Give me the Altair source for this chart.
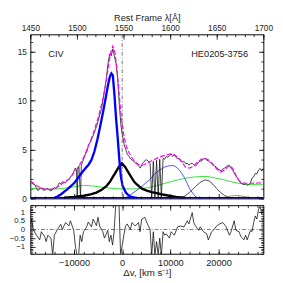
import altair as alt
import pandas as pd

# ---------------- data ----------------
# observed spectrum: velocity (km/s) and flux
spec_v = [-19070, -18810, -18470, -18120, -17860, -17460, -17160, -16790, -16450, -16110,
          -15790, -15440, -15140, -14780, -14430, -14090, -13770, -13430, -13080, -12760,
          -12420, -12080, -11750, -11410, -11070, -10750, -10400, -10060, -9740, -9500,
          -9330, -9190, -8990, -8650, -8490, -8180, -7880, -7640, -7320, -6980,
          -6630, -6310, -5970, -5620, -5300, -4960, -4620, -4290, -3950, -3610,
          -3290, -2940, -2600, -2280, -1940, -1590, -1270, -930, -580, -260,
          80, 420, 750, 1090, 1430, 1750, 2100, 2440, 2760, 3100,
          3450, 3770, 4110, 4460, 4780, 5120, 5460, 5790, 6130, 6470,
          6790, 7140, 7480, 7800, 8140, 8490, 8810, 9150, 9500, 9820,
          10160, 10500, 10830, 11170, 11510, 11830, 12180, 12520, 12840, 13180,
          13530, 13850, 14190, 14540, 14860, 15200, 15540, 15870, 16210, 16550,
          16870, 17220, 17560, 17880, 18220, 18570, 18890, 19230, 19580, 19900,
          20240, 20580, 20910, 21250, 21590, 21910, 22260, 22600, 22920, 23260,
          23610, 23930, 24270, 24620, 24940, 25280, 25620, 25950, 26290, 26630,
          26950, 27300, 27640, 27960, 28300, 28650, 28970, 29310]
spec_f = [1.5, 1.6, 1.45, 1.4, 1.1, 0.8, 1.0, 1.1, 0.9, 0.8,
          1.0, 1.0, 0.85, 0.76, 0.9, 1.1, 1.0, 1.25, 1.58, 1.5,
          1.7, 1.65, 1.6, 1.85, 1.9, 2.2, 2.4, 2.7, 3.1, 2.9,
          0.05, 3.0, 3.3, 0.1, 3.4, 3.8, 4.2, 4.55, 4.8, 5.5,
          5.7, 6.1, 6.5, 7.0, 7.4, 8.0, 8.6, 9.2, 10.2, 11.2,
          12.3, 13.8, 14.8, 14.6, 15.3, 14.5, 13.8, 12.2, 9.5, 7.5,
          6.4, 5.5, 5.0, 4.5, 4.3, 4.06, 3.9, 3.8, 3.6, 3.5,
          3.3, 3.1, 3.5, 3.7, 3.9, 3.95, 3.8, 3.6, 0.1, 3.8,
          0.05, 3.9, 0.1, 4.0, 0.05, 4.1, 4.0, 4.3, 4.2, 4.4,
          4.55, 4.3, 4.45, 4.2, 4.06, 4.1, 3.9, 3.7, 3.8, 3.55,
          3.6, 3.4, 3.55, 3.6, 3.45, 3.3, 3.5, 3.73, 3.8, 3.9,
          4.0, 4.1, 3.9, 3.85, 3.7, 3.56, 3.4, 3.3, 3.2, 3.0,
          2.9, 2.85, 3.0, 3.1, 3.2, 3.35, 3.4, 3.1, 2.9, 2.6,
          2.3, 2.08, 1.8, 1.58, 1.5, 1.4, 1.5, 1.35, 1.4, 1.6,
          2.08, 2.2, 2.57, 2.5, 2.9, 3.07, 2.8, 3.1]

# total model (magenta dashed)
model_v = [-19070, -18060, -17060, -16050, -15040, -14030, -13020, -12020, -11010, -10000,
           -8990, -7980, -6980, -5970, -4960, -3950, -3350, -2740, -2340, -1940,
           -1530, -1130, -730, -320, 80, 480, 890, 1490, 2100, 2700,
           3310, 3910, 4520, 5120, 6130, 7140, 8140, 9150, 10160, 10770,
           11570, 12380, 13180, 13990, 14800, 15600, 16410, 17220, 18020, 18830,
           19640, 20440, 21250, 22060, 22460, 23060, 23670, 24270, 24880, 25680,
           26890, 28300, 29310]
model_f = [1.8, 1.4, 1.1, 0.95, 0.92, 1.0, 1.3, 1.65, 2.0, 2.6,
           3.3, 4.2, 5.4, 6.7, 8.3, 10.3, 11.9, 13.9, 15.0, 15.6,
           15.0, 13.5, 11.3, 9.0, 7.3, 6.1, 5.3, 4.6, 4.1, 3.75,
           3.5, 3.4, 3.45, 3.6, 3.85, 4.1, 4.3, 4.45, 4.55, 4.5,
           4.2, 3.7, 3.2, 3.1, 3.3, 3.7, 4.0, 4.1, 3.9, 3.5,
           3.0, 2.7, 2.9, 3.3, 3.35, 3.0, 2.3, 1.85, 1.6, 1.55,
           1.55, 1.58, 1.6]

# broad CIV component (thick blue)
broad_v = [-14030, -13430, -12680, -12020, -11350, -10660, -10000, -9390, -8790, -8180,
           -7580, -6980, -6370, -5770, -5160, -4560, -3950, -3350, -2940, -2540,
           -2240, -1940, -1590, -1270, -930, -580, -260, 80, 750, 1430, 2100, 3100]
broad_f = [0.05, 0.2, 0.43, 0.7, 0.95, 1.25, 1.55, 1.95, 2.35, 2.75,
           3.1, 3.45, 3.95, 4.8, 6.0, 7.4, 8.9, 10.5, 11.6, 12.5,
           12.8, 12.6, 10.5, 8.2, 6.2, 3.9, 2.2, 1.3, 0.6, 0.27, 0.12, 0.05]

# narrow CIV component (thick black)
narrow_v = [-12020, -10000, -7980, -6570, -5360, -4350, -3290, -2540, -1940, -1330,
            -730, -60, 580, 1190, 1790, 2500, 3100, 4110, 5120, 6130,
            7140, 8350, 9760, 11170, 13180]
narrow_f = [0.08, 0.15, 0.27, 0.42, 0.6, 0.85, 1.25, 1.7, 2.2, 2.7,
            3.2, 3.6, 3.25, 2.75, 2.25, 1.7, 1.4, 1.0, 0.8, 0.65,
            0.55, 0.4, 0.27, 0.15, 0.05]

# component near +10000 km/s (thin blue)
comp1_v = [690, 1490, 2500, 3770, 4720, 5790, 6730, 7800, 8750, 9820,
           10770, 11510, 12180, 12840, 13530, 13990, 14600, 15200, 15810]
comp1_f = [0.05, 0.3, 0.65, 1.09, 1.5, 1.95, 2.5, 2.9, 3.2, 3.35,
           3.35, 3.1, 2.7, 2.2, 1.5, 1.0, 0.55, 0.2, 0.05]

# very broad component (green)
comp2_v = [-19070, -17460, -15850, -14230, -12620, -11010, -9390, -7780, -6170, -4560,
           -2940, -1330, 280, 1900, 3510, 5120, 6730, 8350, 9960, 11570,
           13180, 14800, 16410, 17620, 18830, 20440, 22060, 23670, 25280, 26890,
           28510, 29310]
comp2_f = [1.05, 0.98, 0.93, 0.95, 1.0, 1.1, 1.25, 1.33, 1.28, 1.17,
           1.07, 1.0, 0.97, 0.97, 1.0, 1.08, 1.25, 1.47, 1.7, 1.9,
           2.07, 2.18, 2.24, 2.24, 2.15, 1.98, 1.78, 1.6, 1.47, 1.41,
           1.4, 1.4]

# component near +17000 km/s (thin black)
comp3_v = [12180, 13180, 14190, 15200, 16210, 17220, 18020, 18830, 19640, 20440,
           21250, 22060, 22860]
comp3_f = [0.05, 0.3, 0.7, 1.2, 1.65, 1.9, 1.8, 1.45, 1.0, 0.6,
           0.3, 0.12, 0.03]

# faint component near +24000 km/s (grey)
comp4_v = [19640, 21250, 22660, 23870, 25080, 26490, 27900]
comp4_f = [0.03, 0.12, 0.25, 0.3, 0.22, 0.08, 0.02]

# baseline (navy)
base_v = [-19070, 29310]
base_f = [0.03, 0.03]

# residuals (lower panel)
res_v = [-19070, -18810, -18470, -17800, -17120, -16790, -16110, -15790, -15440, -14780,
         -14430, -14090, -13430, -12760, -12420, -11750, -11070, -10750, -10060, -9740,
         -9390, -9050, -8730, -8390, -8040, -7380, -7040, -6370, -6030, -5360,
         -5020, -4700, -4010, -3690, -3000, -2680, -2340, -2000, -1670, -1330,
         -990, -670, -320, 20, 340, 690, 1030, 1690, 2040, 2700,
         3370, 3710, 4050, 4720, 5120, 5790, 6130, 6470, 6790, 7140,
         7480, 7800, 8140, 8490, 8810, 9150, 9820, 10160, 10830, 11510,
         12180, 12840, 13530, 13850, 14540, 14860, 15200, 15870, 16210, 16870,
         17560, 17880, 18570, 19230, 19580, 20240, 20910, 21590, 22260, 22600,
         23260, 23610, 24270, 24620, 25280, 25620, 25950, 26630, 26950, 27300,
         27640, 27960, 28300, 28650, 28970, 29310]
res_r = [0.32, 0.6, 0.0, -0.33, -0.6, -0.13, -0.4, -0.7, -0.33, -0.5,
         -1.5, -0.33, 0.0, 0.3, 0.0, 0.4, 0.2, 0.5, -0.05, -0.9,
         -1.5, -1.5, -0.33, -0.7, -0.13, 0.15, 0.43, 0.15, 0.6, 0.22,
         0.7, 0.2, -0.13, -0.5, -0.05, -0.7, -0.33, -0.9, -0.13, 1.5,
         1.5, 1.5, -1.5, -0.9, -0.33, 0.2, 0.32, 0.0, 0.4, 0.2,
         0.4, -0.13, 0.6, 0.7, 0.4, 0.0, -1.5, -0.13, -1.5, -0.7,
         -1.5, -0.5, -1.5, -0.13, -0.33, -0.25, -0.5, -0.13, -0.33, 0.15,
         0.2, 0.15, 0.5, 0.32, 0.97, 0.4, 0.22, -0.05, 0.15, -0.13,
         -0.25, -0.6, -0.13, 0.04, 0.2, 0.32, 0.4, 0.15, -0.33, -0.13,
         0.5, -0.05, -0.13, -0.4, -0.6, -0.33, -0.6, -0.05, -0.13, 0.4,
         0.78, 0.6, 1.15, 1.33, 0.9, 1.2]

label_text = ["CIV", "HE0205-3756"]
label_v = [-13730, 20240]
label_f = [14.75, 14.75]

# ---------------- scales ----------------
VMIN, VMAX = -19070, 29310
xs = alt.Scale(domain=[VMIN, VMAX], nice=False, zero=False)
ys = alt.Scale(domain=[0, 16.8], nice=False, zero=False)
rs = alt.Scale(domain=[-1.4, 1.4], nice=False, zero=False)
ls = alt.Scale(domain=[1450, 1700], nice=False, zero=False)

FONT = "Liberation Sans"


def line(v, f, color, width, dash=None, yscale=ys):
    df = pd.DataFrame({"v": v, "f": f})
    kw = dict(color=color, strokeWidth=width, clip=True)
    if dash:
        kw["strokeDash"] = dash
    return alt.Chart(df).mark_line(**kw).encode(
        x=alt.X("v:Q", scale=xs, axis=None),
        y=alt.Y("f:Q", scale=yscale, axis=None),
    )


def tick_axis(orient, values, size):
    return alt.Axis(orient=orient, values=values, tickSize=size, offset=-size,
                    labels=False, domain=False, grid=False, title=None,
                    ticks=True, tickColor="black", tickWidth=0.8,
                    minExtent=0, maxExtent=0)


def axis_layer(xaxis=None, yaxis=None, xscale=xs, yscale=ys, xval=0.0, yval=None):
    if yval is None:
        yval = 5.0
    df = pd.DataFrame({"v": [xval], "f": [yval]})
    return alt.Chart(df).mark_point(opacity=0, size=1).encode(
        x=alt.X("v:Q", scale=xscale, axis=xaxis),
        y=alt.Y("f:Q", scale=yscale, axis=yaxis),
    )


v_major = [-10000, 0, 10000, 20000]
v_minor = list(range(-18000, 29000, 2000))
lam_major = list(range(1450, 1701, 50))
lam_minor = list(range(1450, 1701, 10))
f_major = [0, 5, 10, 15]
f_minor = list(range(0, 17))
r_major = [-1, -0.5, 0, 0.5, 1]
r_minor = [round(-1.4 + 0.1 * i, 1) for i in range(29)]

# ---------------- upper panel ----------------
txt_df = pd.DataFrame({"v": label_v, "f": label_f, "t": label_text})
texts = alt.Chart(txt_df).mark_text(font=FONT, fontSize=9.5, color="#222",
                                    align="center", baseline="middle").encode(
    x=alt.X("v:Q", scale=xs, axis=None),
    y=alt.Y("f:Q", scale=ys, axis=None),
    text="t:N",
)
zero_v = alt.Chart(pd.DataFrame({"v": [0]})).mark_rule(
    color="#555", strokeWidth=0.8, strokeDash=[4, 2, 1, 2]).encode(
    x=alt.X("v:Q", scale=xs, axis=None))

top_layers = [
    axis_layer(yaxis=alt.Axis(orient="left", values=f_major, format="d", ticks=False,
                              domain=False, grid=False, title=None, labelPadding=4,
                              labelFlush=False, minExtent=0)),
    axis_layer(xaxis=alt.Axis(orient="top", values=lam_major, format="d", ticks=False,
                              domain=False, grid=False, title="Rest Frame λ[Å]",
                              labelPadding=2, titlePadding=1, labelFlush=False,
                              labelOverlap=False, minExtent=0),
               xscale=ls, xval=1500.0),
    axis_layer(xaxis=tick_axis("top", lam_major, 5), xscale=ls, xval=1500.0),
    axis_layer(xaxis=tick_axis("top", lam_minor, 2.5), xscale=ls, xval=1500.0),
    axis_layer(xaxis=tick_axis("bottom", v_major, 5)),
    axis_layer(xaxis=tick_axis("bottom", v_minor, 2.5)),
    axis_layer(yaxis=tick_axis("left", f_major, 5)),
    axis_layer(yaxis=tick_axis("left", f_minor, 2.5)),
    axis_layer(yaxis=tick_axis("right", f_major, 5)),
    axis_layer(yaxis=tick_axis("right", f_minor, 2.5)),
    line(comp2_v, comp2_f, "#22dd22", 0.9),
    line(comp1_v, comp1_f, "#3344ff", 0.9),
    line(comp3_v, comp3_f, "#333333", 0.9),
    line(comp4_v, comp4_f, "#888877", 0.9),
    line(spec_v, spec_f, "#111111", 0.8),
    line(model_v, model_f, "#ff00ff", 1.2, dash=[5, 2]),
    line(narrow_v, narrow_f, "#000000", 2.4),
    line(broad_v, broad_f, "#0000ff", 2.4),
    line(base_v, base_f, "#000080", 2.5),
    zero_v,
    texts,
]
top = alt.layer(*top_layers).resolve_scale(x="independent", y="independent").resolve_axis(
    x="independent", y="independent").properties(width=240, height=169)

# ---------------- residual panel ----------------
zero_r = alt.Chart(pd.DataFrame({"f": [0]})).mark_rule(
    color="#555", strokeWidth=0.8, strokeDash=[4, 2, 1, 2]).encode(
    y=alt.Y("f:Q", scale=rs, axis=None))

bot_layers = [
    axis_layer(yscale=rs, yval=0.0,
               yaxis=alt.Axis(orient="left", values=r_major, format="~g", ticks=False,
                              domain=False, grid=False, title=None, labelPadding=6,
                              labelFontSize=8, labelFlush=False, minExtent=0)),
    axis_layer(yscale=rs, yval=0.0,
               xaxis=alt.Axis(orient="bottom", values=v_major, format="d", ticks=False,
                              domain=False, grid=False, title="Δv, [km s⁻¹]",
                              labelPadding=4, titlePadding=1, labelFontSize=9.5,
                              titleFontSize=10, labelFlush=False, minExtent=0)),
    axis_layer(yscale=rs, yval=0.0, xaxis=tick_axis("bottom", v_major, 5)),
    axis_layer(yscale=rs, yval=0.0, xaxis=tick_axis("bottom", v_minor, 2.5)),
    axis_layer(yscale=rs, yval=0.0, xaxis=tick_axis("top", v_major, 5)),
    axis_layer(yscale=rs, yval=0.0, xaxis=tick_axis("top", v_minor, 2.5)),
    axis_layer(yscale=rs, yval=0.0, yaxis=tick_axis("left", r_major, 5)),
    axis_layer(yscale=rs, yval=0.0, yaxis=tick_axis("left", r_minor, 2.5)),
    axis_layer(yscale=rs, yval=0.0, yaxis=tick_axis("right", r_major, 5)),
    axis_layer(yscale=rs, yval=0.0, yaxis=tick_axis("right", r_minor, 2.5)),
    zero_r,
    line(res_v, res_r, "#111111", 0.8, yscale=rs),
]
bottom = alt.layer(*bot_layers).resolve_scale(x="independent", y="independent").resolve_axis(
    x="independent", y="independent").properties(width=240, height=50)

chart = alt.vconcat(top, bottom, spacing=1).properties(
    padding={"left": 0, "top": 0, "right": 2, "bottom": 0}
).configure_view(stroke="black", strokeWidth=1).configure_axis(
    labelFont=FONT, labelFontSize=8.5, labelColor="#222",
    titleFont=FONT, titleFontSize=9.5, titleFontWeight="normal", titleColor="#222",
)

chart.save("out.html", embed_options={"renderer": "svg", "actions": False})
